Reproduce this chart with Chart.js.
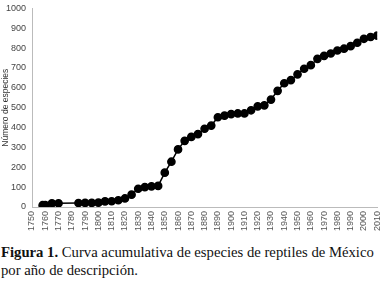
<!DOCTYPE html>
<html><head><meta charset="utf-8">
<script src="https://cdn.jsdelivr.net/npm/chart.js@4/dist/chart.umd.min.js"></script>
<style>
html,body{margin:0;padding:0;background:#fff;width:389px;height:286px;overflow:hidden}
#wrap{position:absolute;left:0;top:0;width:389px;height:236px}
#cap{position:absolute;left:1px;top:244px;width:389px;font-family:"Liberation Serif","Times New Roman",serif;font-size:14.7px;line-height:17.5px;color:#111;white-space:nowrap}
</style></head><body>
<div id="wrap"><canvas id="c" width="389" height="236"></canvas></div>
<div id="cap"><b>Figura 1.</b> Curva acumulativa de especies de reptiles de México<br>por año de descripción.</div>
<script>
const years = [1758,1760,1765,1770,1785,1790,1795,1800,1805,1810,1815,1820,1825,1830,1835,1840,1845,1850,1855,1860,1865,1870,1875,1880,1885,1890,1895,1900,1905,1910,1915,1920,1925,1930,1935,1940,1945,1950,1955,1960,1965,1970,1975,1980,1985,1990,1995,2000,2005,2010];
const species = [9,10,18,19,20,21,21,22,28,29,34,43,62,92,100,104,106,173,228,290,333,353,367,394,410,452,460,468,471,471,487,507,512,541,585,623,639,668,696,714,746,761,773,788,797,810,827,847,856,863];
const yTitle = "Número de especies";
const xMin = 1750, xMax = 2010, xStep = 10;
const yMin = 0, yMax = 1000, yStep = 100;

new Chart(document.getElementById('c'), {
  type: 'line',
  data: {
    datasets: [{
      data: years.map((y,i)=>({x:y, y:species[i]})),
      borderColor: '#000',
      backgroundColor: '#000',
      borderWidth: 1.5,
      pointRadius: 3.6,
      pointHoverRadius: 3.6,
      tension: 0,
      fill: false
    }]
  },
  options: {
    responsive: false,
    animation: false,
    devicePixelRatio: 1,
    layout: {padding: {top: 4, right: 5, left: 0, bottom: 0}},
    plugins: {legend: {display: false}, tooltip: {enabled: false}},
    scales: {
      x: {
        type: 'linear', min: xMin, max: xMax,
        grid: {display: false, drawOnChartArea: false, drawTicks: true, tickLength: 3, color: '#bbb'},
        border: {color: '#bbb', width: 1},
        ticks: {stepSize: xStep, minRotation: 90, maxRotation: 90, autoSkip: false, padding: 1,
          color: '#555', font: {family: 'Liberation Sans, Arial', size: 9},
          callback: v => String(v)},
        afterFit: s => { s.height = 29; }
      },
      y: {
        min: yMin, max: yMax,
        grid: {display: false, drawOnChartArea: false, drawTicks: true, tickLength: 3, color: '#bbb'},
        border: {color: '#bbb', width: 1},
        ticks: {stepSize: yStep, padding: 3, color: '#444', font: {family: 'Liberation Sans, Arial', size: 9},
          callback: v => String(v)},
        title: {display: true, text: yTitle, color: '#333', font: {family: 'Liberation Sans, Arial', size: 8.5}, padding: {top: 1, bottom: 0}},
        afterFit: s => { s.width = 32; }
      }
    }
  }
});
</script>
</body></html>
